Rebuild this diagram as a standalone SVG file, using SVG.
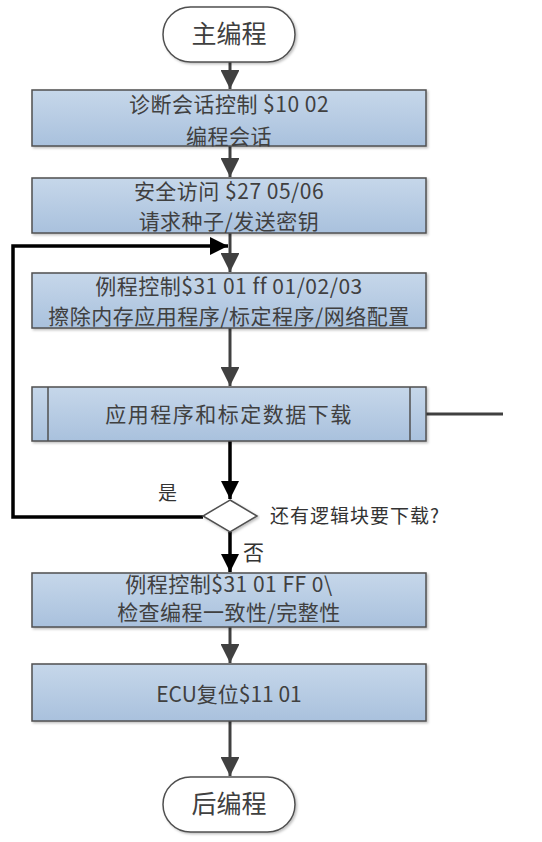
<svg xmlns="http://www.w3.org/2000/svg" width="542" height="842" viewBox="0 0 542 842">
<defs>
<linearGradient id="bf" x1="0" y1="0" x2="0" y2="1">
<stop offset="0" stop-color="#c6d7ea"/>
<stop offset="1" stop-color="#a9c1dd"/>
</linearGradient>
<filter id="sh" x="-5%" y="-5%" width="110%" height="120%">
<feDropShadow dx="1.5" dy="1.5" stdDeviation="1" flood-color="#000" flood-opacity="0.25"/>
</filter>
<marker id="ag" viewBox="0 0 10 10" refX="10" refY="5" markerWidth="6.3" markerHeight="6.3" orient="auto" markerUnits="strokeWidth">
<path d="M0,0 L10,5 L0,10 z" fill="#404040"/>
</marker>
<marker id="ab" viewBox="0 0 10 10" refX="10" refY="5" markerWidth="5.2" markerHeight="5.2" orient="auto" markerUnits="strokeWidth">
<path d="M0,0 L10,5 L0,10 z" fill="#000"/>
</marker>
</defs>
<style>
.box{fill:url(#bf);stroke:#505050;stroke-width:1.5;filter:url(#sh)}
.term{fill:#fff;stroke:#505050;stroke-width:1.5;filter:url(#sh)}
.t{font-family:"Noto Sans CJK SC","Liberation Sans",sans-serif;font-size:21px;fill:#404040;text-anchor:middle}
.tl{font-family:"Noto Sans CJK SC","Liberation Sans",sans-serif;font-size:19px;fill:#333;text-anchor:start}
.g{fill:none;stroke:#404040;stroke-width:3;marker-end:url(#ag)}
.b{fill:none;stroke:#000;stroke-width:3.5;marker-end:url(#ab)}
</style>
<g id="connectors">
<path class="g" d="M230,62 V89"/>
<path class="g" d="M230,146 V177"/>
<path class="g" d="M230,233 V272"/>
<path class="g" d="M230,328 V386"/>
<path class="b" d="M230,441 V499"/>
<path class="b" d="M230,532 V572"/>
<path class="g" d="M230,627 V663"/>
<path class="g" d="M230,721 V776"/>
<path class="b" d="M203,517 H13 V246 H228"/>
<path fill="none" stroke="#404040" stroke-width="3" d="M426,414 H503"/>
</g>
<g id="start">
<rect class="term" x="163" y="7" width="132" height="55" rx="27.5"/>
<text class="t" x="229" y="43" style="font-size:25px">主编程</text>
</g>
<g id="n1">
<rect class="box" x="32" y="90" width="394" height="56"/>
<text class="t" x="229" y="112" letter-spacing="0.5">诊断会话控制 $10 02</text>
<text class="t" x="229" y="144" letter-spacing="0.5">编程会话</text>
</g>
<g id="n2">
<rect class="box" x="32" y="178" width="394" height="55"/>
<text class="t" x="229" y="199" letter-spacing="0.5">安全访问 $27 05/06</text>
<text class="t" x="229" y="229" letter-spacing="0.5">请求种子/发送密钥</text>
</g>
<g id="n3">
<rect class="box" x="32" y="273" width="394" height="55"/>
<text class="t" x="229" y="294" letter-spacing="0.5">例程控制$31 01 ff 01/02/03</text>
<text class="t" x="229" y="324" letter-spacing="0.5">擦除内存应用程序/标定程序/网络配置</text>
</g>
<g id="n4">
<rect class="box" x="32" y="387" width="394" height="54"/>
<path d="M48,387 V441 M410,387 V441" stroke="#505050" stroke-width="1.5"/>
<text class="t" x="229" y="422" letter-spacing="1.5">应用程序和标定数据下载</text>
</g>
<g id="decision">
<path class="term" d="M230,500 L257,516 L230,532 L203,516 z"/>
<text class="tl" x="270" y="523" letter-spacing="1">还有逻辑块要下载?</text>
<text class="tl" x="158" y="500">是</text>
<text class="tl" x="243" y="560" style="font-size:21px">否</text>
</g>
<g id="n5">
<rect class="box" x="32" y="573" width="394" height="54"/>
<text class="t" x="229" y="592" letter-spacing="0.5">例程控制$31 01 FF 0\</text>
<text class="t" x="229" y="620" letter-spacing="0.5">检查编程一致性/完整性</text>
</g>
<g id="n6">
<rect class="box" x="32" y="664" width="394" height="57"/>
<text class="t" x="229" y="702">ECU复位$11 01</text>
</g>
<g id="end">
<rect class="term" x="163" y="777" width="132" height="55" rx="27.5"/>
<text class="t" x="229" y="813" style="font-size:25px">后编程</text>
</g>
</svg>
